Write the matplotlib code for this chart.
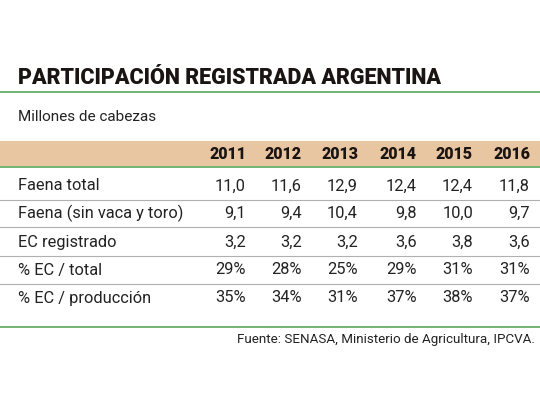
import matplotlib
matplotlib.use("Agg")
import matplotlib.pyplot as plt

title = "PARTICIPACIÓN REGISTRADA ARGENTINA"
subtitle = "Millones de cabezas"
years = ["2011", "2012", "2013", "2014", "2015", "2016"]
row_labels = ["Faena total", "Faena (sin vaca y toro)", "EC registrado", "% EC / total", "% EC / producción"]
faena_total = ["11,0", "11,6", "12,9", "12,4", "12,4", "11,8"]
faena_sin = ["9,1", "9,4", "10,4", "9,8", "10,0", "9,7"]
ec_reg = ["3,2", "3,2", "3,2", "3,6", "3,8", "3,6"]
ec_total = ["29%", "28%", "25%", "29%", "31%", "31%"]
ec_prod = ["35%", "34%", "31%", "37%", "38%", "37%"]
source = "Fuente: SENASA, Ministerio de Agricultura, IPCVA."
rows = [faena_total, faena_sin, ec_reg, ec_total, ec_prod]

fig = plt.figure(figsize=(5.4, 4.05), dpi=100)
ax = fig.add_axes([0, 0, 1, 1])
ax.set_xlim(0, 540); ax.set_ylim(405, 0); ax.axis("off")
fig.patch.set_facecolor("white")

green = "#5aa55a"
dark = "#1a1412"
ax.text(18, 78, title, fontsize=15.5, fontweight="black", color=dark, va="center", ha="left", family="Roboto")
ax.plot([0, 540], [92, 92], color=green, lw=1.2)
ax.text(18, 117, subtitle, fontsize=11, color="#222", va="center", family="Roboto")
ax.add_patch(plt.Rectangle((0, 141), 540, 25, color="#e9c6a2", lw=0))
ax.plot([0, 540], [167, 167], color=green, lw=1.2)
xs = [246, 302, 358, 417, 473, 530]
for x, y in zip(xs, years):
    ax.text(x, 154, y, fontsize=11.5, fontweight="black", color=dark, ha="right", va="center", family="Roboto")
ys = [186, 213, 242, 270, 298]
for i, (lab, vals, y) in enumerate(zip(row_labels, rows, ys)):
    ax.text(18, y, lab, fontsize=11.8, color="#222", va="center", family="Roboto")
    for x, v in zip(xs, vals):
        ax.text(x, y, v, fontsize=11.8, color="#222", ha="right", va="center", family="Roboto")
    if i < len(ys) - 1:
        ax.plot([0, 540], [y + 14, y + 14], color="#b0b0b0", lw=0.8)
ax.plot([0, 540], [327, 327], color=green, lw=1.2)
ax.text(535, 339, source, fontsize=9.6, color="#222", ha="right", va="center", family="Roboto")
fig.savefig("out.png", dpi=100)
